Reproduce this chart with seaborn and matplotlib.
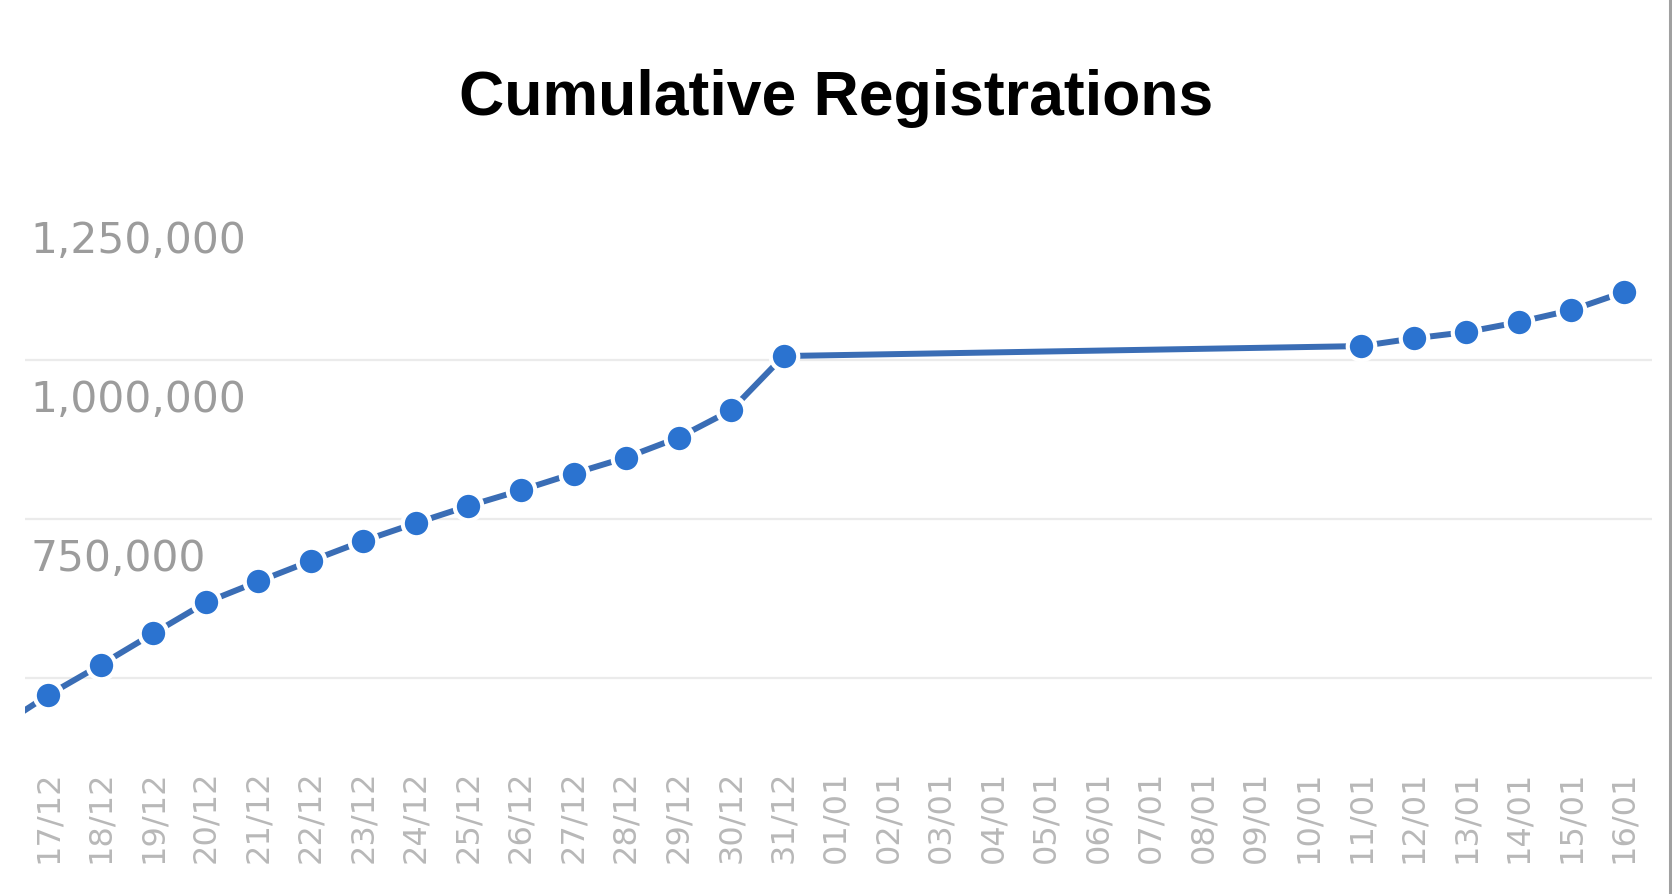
import numpy as np
import pandas as pd
import matplotlib
matplotlib.use("Agg")
import matplotlib.pyplot as plt
import matplotlib.transforms as mtransforms
from matplotlib.lines import Line2D
import seaborn as sns

# ---- data -------------------------------------------------------------
dates = ['16/12', '17/12', '18/12', '19/12', '20/12', '21/12', '22/12', '23/12',
         '24/12', '25/12', '26/12', '27/12', '28/12', '29/12', '30/12', '31/12',
         '01/01', '02/01', '03/01', '04/01', '05/01', '06/01', '07/01', '08/01',
         '09/01', '10/01', '11/01', '12/01', '13/01', '14/01', '15/01', '16/01']
registrations = [419000, 472500, 520100, 569500, 618200, 651300, 683600, 715100,
                 743200, 770100, 794800, 821100, 846200, 877700, 920600, 1006000,
                 np.nan, np.nan, np.nan, np.nan, np.nan, np.nan, np.nan, np.nan,
                 np.nan, np.nan, 1021700, 1033800, 1043700, 1059400, 1078300, 1106600]
y_ticks = [500000, 750000, 1000000, 1250000]
y_tick_labels = ['', '750,000', '1,000,000', '1,250,000']
title = 'Cumulative Registrations'

df = pd.DataFrame({'pos': np.arange(len(dates)), 'date': dates, 'value': registrations})
df_line = df.dropna(subset=['value'])

# ---- figure -----------------------------------------------------------
sns.set_theme(style='white')
plt.rcParams['font.family'] = ['DejaVu Sans']

W, H = 1672, 895
fig = plt.figure(figsize=(W / 100, H / 100), dpi=100)
fig.patch.set_facecolor('white')

ax_left, ax_right, ax_top, ax_bottom = 25, 1652, 202, 760
ax = fig.add_axes([ax_left / W, (H - ax_bottom) / H,
                   (ax_right - ax_left) / W, (ax_bottom - ax_top) / H])
ax.set_facecolor('white')

sns.lineplot(data=df_line, x='pos', y='value', ax=ax,
             color='#3a6db5', linewidth=4.3,
             marker='o', markersize=19.8,
             markerfacecolor='#2b73d0', markeredgecolor='white',
             markeredgewidth=3.0, zorder=3)

for s in ax.spines.values():
    s.set_visible(False)

ax.set_xlabel('')
ax.set_ylabel('')

# grid / y ticks
ax.set_yticks(y_ticks)
ax.set_yticklabels(y_tick_labels)
ax.yaxis.grid(True, color='#ebebeb', linewidth=1.6, zorder=0)
ax.xaxis.grid(False)
ax.set_axisbelow(True)
for tk, val in zip(ax.yaxis.get_major_ticks(), y_ticks):
    if val == 1250000:
        tk.gridline.set_visible(False)

# y tick labels: inside the plot, below their gridline
ax.tick_params(axis='y', length=0, pad=-3.6, labelsize=30.5, labelcolor='#9c9c9c')
offset = mtransforms.ScaledTranslation(0, -0.35, fig.dpi_scale_trans)
for lab in ax.get_yticklabels():
    lab.set_horizontalalignment('left')
    lab.set_transform(lab.get_transform() + offset)

# x tick labels
ax.set_xticks(df['pos'])
ax.set_xticklabels(df['date'], rotation=90, va='top', ha='center')
ax.tick_params(axis='x', length=0, pad=7.5, labelsize=23, labelcolor='#b8b8b8')

# view limits (after ticks, which would otherwise widen them)
ax.set_xlim(0.556, 31.535)
ax.set_ylim(371855, 1250000)

# title
fig.text(0.5, (H - 115) / H, title, ha='center', va='baseline',
         fontsize=45, fontweight='bold', color='black',
         family=['Liberation Sans', 'DejaVu Sans'])

# right border of the panel
fig.add_artist(Line2D([1669.5 / W, 1669.5 / W], [0, 1], transform=fig.transFigure,
                      color='#a0a0a0', linewidth=2.2))

fig.savefig('out.png', dpi=100, facecolor='white')
